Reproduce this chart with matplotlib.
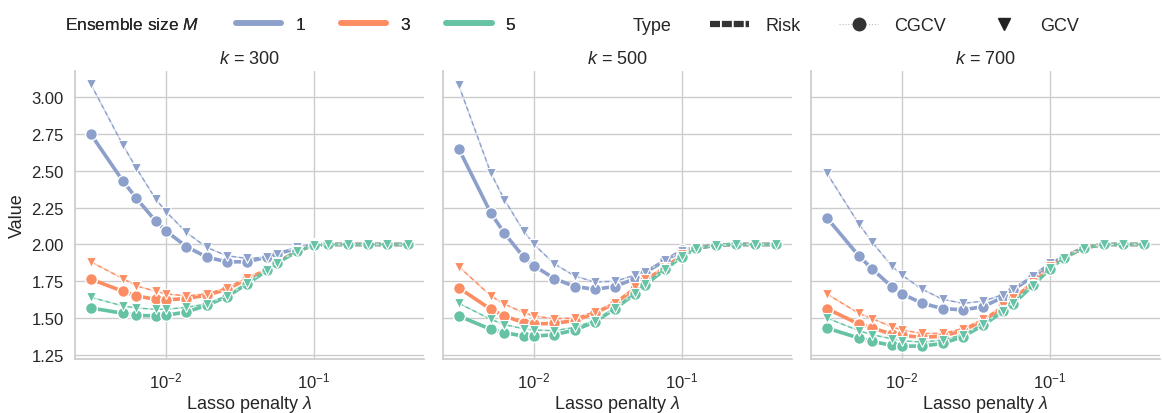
import numpy as np
import matplotlib
matplotlib.use("Agg")
import matplotlib.pyplot as plt
from matplotlib.lines import Line2D
from matplotlib.colors import to_rgb
import seaborn as sns

# lasso penalties (same grid in every panel)
lam = [0.0031, 0.0051, 0.0063, 0.0085, 0.010, 0.0137, 0.0188, 0.0257, 0.0353,
       0.048, 0.056, 0.077, 0.10, 0.124, 0.169, 0.23, 0.31, 0.43]
ks = [300, 500, 700]
ensemble_sizes = [1, 3, 5]

# k = 300
gcv_300 = {
    1: [3.09, 2.677, 2.518, 2.309, 2.223, 2.082, 1.98, 1.923, 1.905, 1.914, 1.936, 1.98, 2.0, 2.0, 2.0, 2.0, 2.0, 2.0],
    3: [1.882, 1.768, 1.718, 1.682, 1.664, 1.65, 1.664, 1.705, 1.773, 1.836, 1.882, 1.955, 1.995, 2.0, 2.0, 2.0, 2.0, 2.0],
    5: [1.641, 1.582, 1.568, 1.559, 1.559, 1.573, 1.595, 1.65, 1.736, 1.827, 1.877, 1.955, 1.995, 2.0, 2.0, 2.0, 2.0, 2.0],
}
cgcv_300 = {
    1: [2.75, 2.432, 2.314, 2.159, 2.091, 1.986, 1.914, 1.882, 1.882, 1.914, 1.936, 1.973, 2.0, 2.0, 2.0, 2.0, 2.0, 2.0],
    3: [1.764, 1.682, 1.65, 1.627, 1.623, 1.632, 1.655, 1.695, 1.764, 1.827, 1.877, 1.955, 1.995, 2.0, 2.0, 2.0, 2.0, 2.0],
    5: [1.568, 1.532, 1.518, 1.514, 1.518, 1.541, 1.586, 1.645, 1.732, 1.823, 1.873, 1.955, 1.995, 2.0, 2.0, 2.0, 2.0, 2.0],
}
# k = 500
gcv_500 = {
    1: [3.082, 2.486, 2.305, 2.091, 2.0, 1.868, 1.786, 1.745, 1.75, 1.791, 1.814, 1.891, 1.955, 1.977, 1.995, 2.0, 2.0, 2.0],
    3: [1.85, 1.65, 1.595, 1.536, 1.514, 1.495, 1.5, 1.541, 1.605, 1.709, 1.764, 1.85, 1.936, 1.973, 1.995, 2.0, 2.0, 2.0],
    5: [1.6, 1.491, 1.455, 1.427, 1.418, 1.414, 1.436, 1.482, 1.568, 1.668, 1.732, 1.836, 1.923, 1.973, 1.995, 2.0, 2.0, 2.0],
}
cgcv_500 = {
    1: [2.65, 2.214, 2.077, 1.914, 1.855, 1.768, 1.714, 1.695, 1.714, 1.768, 1.809, 1.891, 1.959, 1.977, 1.995, 2.0, 2.0, 2.0],
    3: [1.705, 1.559, 1.514, 1.468, 1.459, 1.464, 1.482, 1.532, 1.6, 1.7, 1.755, 1.841, 1.927, 1.973, 1.995, 2.0, 2.0, 2.0],
    5: [1.514, 1.423, 1.4, 1.377, 1.377, 1.386, 1.418, 1.473, 1.564, 1.664, 1.723, 1.832, 1.918, 1.973, 1.995, 2.0, 2.0, 2.0],
}
# k = 700
gcv_700 = {
    1: [2.486, 2.141, 2.014, 1.855, 1.791, 1.695, 1.627, 1.6, 1.614, 1.659, 1.7, 1.786, 1.873, 1.923, 1.982, 2.0, 2.0, 2.0],
    3: [1.664, 1.532, 1.495, 1.441, 1.418, 1.395, 1.395, 1.427, 1.491, 1.582, 1.636, 1.745, 1.855, 1.914, 1.982, 2.0, 2.0, 2.0],
    5: [1.5, 1.414, 1.386, 1.359, 1.345, 1.336, 1.35, 1.386, 1.459, 1.55, 1.605, 1.727, 1.841, 1.909, 1.977, 2.0, 2.0, 2.0],
}
cgcv_700 = {
    1: [2.182, 1.923, 1.832, 1.714, 1.664, 1.6, 1.564, 1.555, 1.577, 1.641, 1.691, 1.782, 1.868, 1.914, 1.977, 2.0, 2.0, 2.0],
    3: [1.564, 1.459, 1.432, 1.391, 1.382, 1.368, 1.377, 1.414, 1.482, 1.573, 1.627, 1.741, 1.845, 1.909, 1.977, 2.0, 2.0, 2.0],
    5: [1.432, 1.364, 1.341, 1.314, 1.309, 1.309, 1.327, 1.373, 1.45, 1.545, 1.595, 1.723, 1.836, 1.909, 1.977, 2.0, 2.0, 2.0],
}
# risk curve lies under the CGCV markers
risk_300 = cgcv_300
risk_500 = cgcv_500
risk_700 = cgcv_700

gcv = {300: gcv_300, 500: gcv_500, 700: gcv_700}
cgcv = {300: cgcv_300, 500: cgcv_500, 700: cgcv_700}
risk = {300: risk_300, 500: risk_500, 700: risk_700}

sns.set_theme(style="whitegrid")
plt.rcParams['font.family'] = ['Liberation Sans', 'DejaVu Sans']
plt.rcParams['mathtext.fontset'] = 'custom'
plt.rcParams['mathtext.it'] = 'Liberation Sans:italic'
plt.rcParams['mathtext.rm'] = 'Liberation Sans'

colors = {1: '#8da0cb', 3: '#fc8d62', 5: '#66c2a5'}


def lighten(c, f=0.6):
    r = np.array(to_rgb(c))
    return tuple(r + (1 - r) * f)


fig, axes = plt.subplots(1, 3, figsize=(11.62, 4.14), dpi=100, sharey=True)
fig.subplots_adjust(left=0.0645, right=0.998, top=0.826, bottom=0.13, wspace=0.055)

for ax, k in zip(axes, ks):
    for m in ensemble_sizes:
        c = colors[m]
        ax.plot(lam, risk[k][m], color=c, lw=2.6, solid_capstyle='round', zorder=2)
        ax.plot(lam, cgcv[k][m], color=c, lw=1, ls=':', marker='o', ms=8.5,
                mec='white', mew=1, zorder=3)
        ax.plot(lam, gcv[k][m], color=c, lw=1.1, ls=(0, (3, 2)), gapcolor=lighten(c),
                marker='v', ms=7.5, mec='white', mew=0.8, zorder=3)
    ax.set_xscale('log')
    ax.set_title(f'$k$ = {k}', fontsize=13)
    ax.set_xlabel(r'Lasso penalty $\lambda$', fontsize=13, labelpad=2)
    ax.tick_params(labelsize=12, pad=2)
    ax.xaxis.set_minor_locator(matplotlib.ticker.NullLocator())
    for s in ['top', 'right']:
        ax.spines[s].set_visible(False)
    ax.set_yticks([1.25, 1.5, 1.75, 2.0, 2.25, 2.5, 2.75, 3.0])
    ax.yaxis.set_major_formatter(matplotlib.ticker.FormatStrFormatter('%.2f'))

axes[0].set_ylabel('Value', fontsize=13)

blank = Line2D([], [], color='none')
h1 = [blank] + [Line2D([], [], color=colors[m], lw=4, solid_capstyle='round') for m in ensemble_sizes]
l1 = ['Ensemble size $M$'] + [str(m) for m in ensemble_sizes]
leg1 = fig.legend(h1, l1, loc='upper left', bbox_to_anchor=(-0.008, 0.996), ncol=4,
                  frameon=False, fontsize=12.5, handlelength=2.6, handletextpad=0.8,
                  columnspacing=2.1)
fig.add_artist(leg1)

h2 = [blank,
      Line2D([], [], color='#333333', lw=4.5, ls=(0, (1.6, 0.3))),
      Line2D([], [], color='#bbbbbb', lw=0.8, ls=':', marker='o', ms=9,
             mfc='#333333', mec='#333333'),
      Line2D([], [], color='none', marker='v', ms=9, mfc='#222222', mec='#222222')]
l2 = ['Type', 'Risk', 'CGCV', 'GCV']
fig.legend(h2, l2, loc='upper left', bbox_to_anchor=(0.483, 0.996), ncol=4,
           frameon=False, fontsize=13, handlelength=2.15, handletextpad=0.9,
           columnspacing=2.15)

fig.savefig('out.png', dpi=100)
